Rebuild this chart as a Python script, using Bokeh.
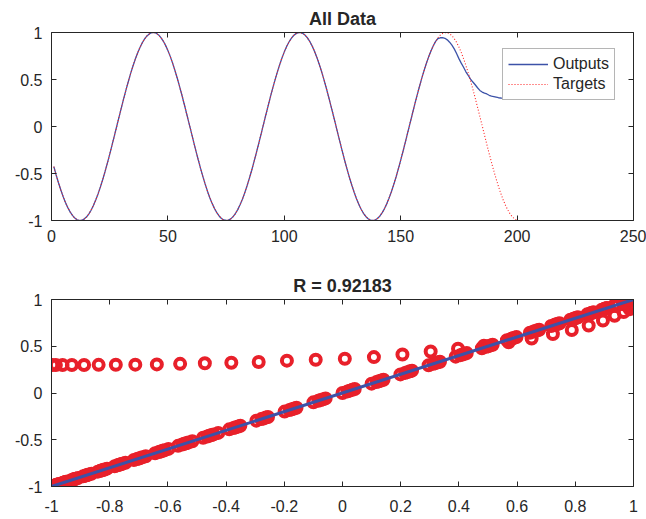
from bokeh.plotting import figure
from bokeh.models import Range1d, LinearAxis, FixedTicker, Legend, LegendItem, ColumnDataSource
from bokeh.layouts import column
from bokeh.embed import file_html
from bokeh.resources import INLINE

# ---------------- data ----------------
time_steps = list(range(1, 201))

targets = [
    -0.427, -0.516, -0.598, -0.676, -0.746, -0.809, -0.863, -0.909, -0.946, -0.974,
    -0.992, -1.000, -0.998, -0.985, -0.964, -0.932, -0.891, -0.841, -0.783, -0.717,
    -0.644, -0.565, -0.479, -0.389, -0.296, -0.199, -0.100, 0.000, 0.100, 0.199,
    0.296, 0.389, 0.479, 0.565, 0.644, 0.717, 0.783, 0.841, 0.891, 0.932,
    0.964, 0.985, 0.998, 1.000, 0.992, 0.974, 0.946, 0.909, 0.863, 0.809,
    0.746, 0.676, 0.598, 0.516, 0.427, 0.335, 0.239, 0.141, 0.042, -0.058,
    -0.158, -0.256, -0.351, -0.443, -0.530, -0.612, -0.688, -0.757, -0.818, -0.872,
    -0.916, -0.952, -0.978, -0.994, -1.000, -0.996, -0.983, -0.959, -0.926, -0.884,
    -0.832, -0.773, -0.706, -0.631, -0.551, -0.465, -0.374, -0.279, -0.182, -0.083,
    0.017, 0.117, 0.215, 0.312, 0.405, 0.494, 0.579, 0.657, 0.729, 0.794,
    0.851, 0.899, 0.938, 0.968, 0.988, 0.999, 0.999, 0.990, 0.970, 0.941,
    0.902, 0.855, 0.799, 0.735, 0.663, 0.585, 0.501, 0.412, 0.319, 0.223,
    0.125, 0.025, -0.075, -0.174, -0.272, -0.367, -0.458, -0.544, -0.625, -0.700,
    -0.768, -0.828, -0.880, -0.923, -0.957, -0.981, -0.996, -1.000, -0.995, -0.979,
    -0.954, -0.919, -0.876, -0.823, -0.762, -0.694, -0.618, -0.537, -0.450, -0.358,
    -0.263, -0.166, -0.066, 0.034, 0.133, 0.232, 0.328, 0.420, 0.509, 0.592,
    0.670, 0.741, 0.804, 0.859, 0.906, 0.944, 0.972, 0.990, 0.999, 0.998,
    0.987, 0.966, 0.935, 0.895, 0.846, 0.788, 0.723, 0.650, 0.571, 0.486,
    0.397, 0.303, 0.206, 0.108, 0.008, -0.092, -0.191, -0.288, -0.382, -0.473,
    -0.558, -0.638, -0.712, -0.779, -0.838, -0.888, -0.930, -0.962, -0.985, -0.997,
]

# outputs follow the targets up to step 165, then diverge
outputs_tail = [
    0.936, 0.944, 0.945, 0.938, 0.922, 0.897, 0.865, 0.826, 0.776, 0.722,
    0.674, 0.630, 0.582, 0.543, 0.505, 0.473, 0.444, 0.412, 0.384, 0.366,
    0.355, 0.346, 0.332, 0.324, 0.318, 0.312, 0.306, 0.303, 0.302, 0.301,
    0.300, 0.300, 0.300, 0.300, 0.300,
]
outputs = targets[:165] + outputs_tail

fit_x = [-1.0, 1.0]
fit_y = [-1.0, 1.0]

top_title = "All Data"
bottom_title = "R = 0.92183"
legend_labels = ["Outputs", "Targets"]

top_xticks = [0, 50, 100, 150, 200, 250]
top_xlabels = ["0", "50", "100", "150", "200", "250"]
top_yticks = [-1, -0.5, 0, 0.5, 1]
top_ylabels = ["-1", "-0.5", "0", "0.5", "1"]
bot_xticks = [-1, -0.8, -0.6, -0.4, -0.2, 0, 0.2, 0.4, 0.6, 0.8, 1]
bot_xlabels = ["-1", "-0.8", "-0.6", "-0.4", "-0.2", "0", "0.2", "0.4", "0.6", "0.8", "1"]
bot_yticks = [-1, -0.5, 0, 0.5, 1]
bot_ylabels = ["-1", "-0.5", "0", "0.5", "1"]

# ---------------- style ----------------
FONT = "Liberation Sans"
TXT = "#262626"
BLUE = "#3C52A8"
RED = "#E8202A"
W = 646
LEFT = 51
FRAME_W = 582


def style_axis(ax, ticks, labels, show, standoff=9):
    ax.ticker = FixedTicker(ticks=ticks)
    ax.major_tick_in = 5
    ax.major_tick_out = 0
    ax.minor_tick_in = 0
    ax.minor_tick_out = 0
    ax.axis_line_color = TXT
    ax.axis_line_width = 1
    ax.major_tick_line_color = TXT
    ax.major_tick_line_width = 1
    if show:
        ax.major_label_overrides = {k: v for k, v in zip(ticks, labels)}
        ax.major_label_text_font = FONT
        ax.major_label_text_font_size = "16px"
        ax.major_label_text_color = TXT
        ax.major_label_standoff = standoff
    else:
        ax.major_label_text_font_size = "0px"
        ax.major_label_text_color = None
        ax.major_label_text_alpha = 0
        ax.major_label_standoff = 0


def make_fig(height, xr, yr, title, bt, bb, xt, xl, yt, yl, xstand, tstand):
    p = figure(width=W, height=height, x_range=Range1d(*xr), y_range=Range1d(*yr),
               output_backend="svg", toolbar_location=None,
               min_border_left=LEFT, min_border_right=W - LEFT - FRAME_W,
               min_border_top=bt, min_border_bottom=bb)
    p.xgrid.visible = False
    p.ygrid.visible = False
    p.outline_line_color = None
    p.background_fill_color = "white"
    p.border_fill_color = "white"
    p.title.text = title
    p.title.align = "center"
    p.title.text_font = FONT
    p.title.text_font_size = "18px"
    p.title.text_font_style = "bold"
    p.title.text_color = TXT
    p.title.standoff = tstand
    style_axis(p.xaxis[0], xt, xl, True, xstand)
    style_axis(p.yaxis[0], yt, yl, True, 9)
    top_ax = LinearAxis()
    right_ax = LinearAxis()
    style_axis(top_ax, xt, xl, False)
    style_axis(right_ax, yt, yl, False)
    p.add_layout(top_ax, "above")
    p.add_layout(right_ax, "right")
    return p


# ---------------- top: All Data ----------------
p1 = make_fig(260, (0, 250), (-1, 1), top_title, 32, 40,
              top_xticks, top_xlabels, top_yticks, top_ylabels, 9, 7)
src = ColumnDataSource(dict(t=time_steps, out=outputs, tgt=targets))
r_out = p1.line("t", "out", source=src, line_color=BLUE, line_width=1.3)
r_tgt = p1.line("t", "tgt", source=src, line_color="#FF2020", line_width=1.1,
                line_dash="1 2")
legend = Legend(items=[LegendItem(label=legend_labels[0], renderers=[r_out]),
                       LegendItem(label=legend_labels[1], renderers=[r_tgt])],
                location=(451, 120))
legend.label_text_font = FONT
legend.label_text_font_size = "16px"
legend.label_text_color = TXT
legend.glyph_width = 40
legend.glyph_height = 20
legend.label_height = 20
legend.label_standoff = 5
legend.padding = 5
legend.spacing = 0
legend.margin = 0
legend.border_line_color = "#6b6b6b"
legend.border_line_width = 1
legend.background_fill_color = "white"
legend.background_fill_alpha = 1
p1.add_layout(legend)

# ---------------- bottom: regression ----------------
p2 = make_fig(259, (-1, 1), (-1, 1), bottom_title, 39, 33,
              bot_xticks, bot_xlabels, bot_yticks, bot_ylabels, 13, 8)
p2.scatter(targets, outputs, marker="circle", size=10, fill_color=None,
           line_color=RED, line_width=4)
p2.line(fit_x, fit_y, line_color=BLUE, line_width=3)

layout = column(p1, p2, spacing=0)
open("out.html", "w").write(file_html(layout, INLINE))
